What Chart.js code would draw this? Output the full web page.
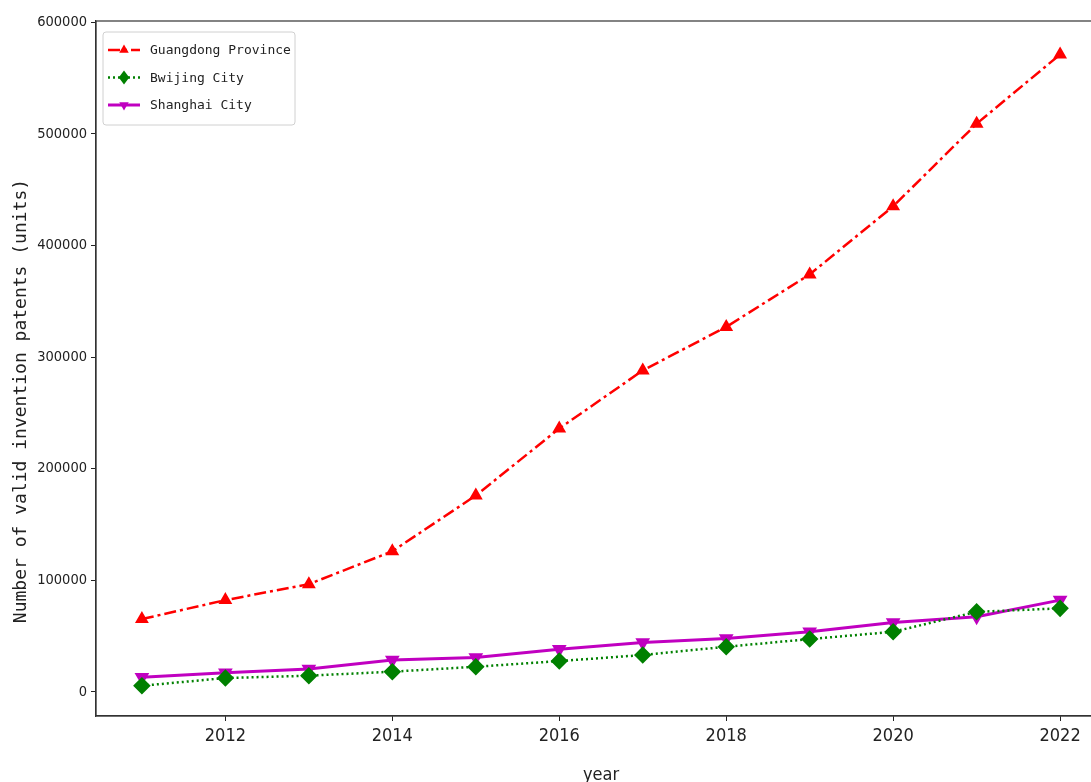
<!DOCTYPE html>
<html>
<head>
<meta charset="utf-8">
<script src="https://cdn.jsdelivr.net/npm/chart.js@4/dist/chart.umd.min.js"></script>
<style>
  html, body { margin: 0; padding: 0; overflow: hidden; background: #fff; }
  #wrap { position: absolute; left: 0; top: 0; width: 1091px; height: 782px; overflow: hidden; }
  #myChart { position: absolute; left: 0; top: 0; }
</style>
</head>
<body>
<div id="wrap"><canvas id="myChart" width="1120" height="800"></canvas></div>
<script>
// x axis
const years = [2011, 2012, 2013, 2014, 2015, 2016, 2017, 2018, 2019, 2020, 2021, 2022]
const xTicks = [2012, 2014, 2016, 2018, 2020, 2022]

// y axis
const yTicks = [0, 100000, 200000, 300000, 400000, 500000, 600000]

// y values (units)
const guangdong = [65300, 82300, 96600, 126000, 176000, 236000, 288000, 327000, 374000, 435000, 509000, 571000]
const beijing = [5600, 12500, 14600, 18200, 22600, 27700, 33100, 40500, 47400, 53900, 71800, 74900]
const shanghai = [13100, 17300, 20600, 28600, 31000, 38200, 44400, 48000, 53900, 62300, 67400, 82300]

const seriesNames = ['Guangdong Province', 'Bwijing City', 'Shanghai City']
const xTitle = 'year'
const yTitle = 'Number of valid invention patents (units)'

const sansFont = '"DejaVu Sans Condensed", "Liberation Sans", sans-serif'
const monoFont = '"DejaVu Sans Mono", monospace'

const toPoints = vals => years.map((yr, i) => ({ x: yr, y: vals[i] }))

// draw a marker like the dataset's point
function drawMarker(c, style, rot, x, y, r, color) {
    c.save()
    c.fillStyle = color
    c.setLineDash([])
    c.translate(x, y)
    c.rotate(rot * Math.PI / 180)
    c.beginPath()
    if (style === 'triangle') {
        c.moveTo(0, -r)
        c.lineTo(r * 0.866, r * 0.5)
        c.lineTo(-r * 0.866, r * 0.5)
    } else {
        c.moveTo(0, -r)
        c.lineTo(r * 0.75, 0)
        c.lineTo(0, r)
        c.lineTo(-r * 0.75, 0)
    }
    c.closePath()
    c.fill()
    c.restore()
}

// frame round the plot + legend box inside the plot
const framePlugin = {
    id: 'frame',
    afterDraw(chart) {
        const c = chart.ctx
        const a = chart.chartArea
        c.save()
        c.strokeStyle = '#333'
        c.lineWidth = 1.2
        c.strokeRect(a.left, a.top, a.right - a.left, a.bottom - a.top)

        // legend
        const bx = a.left + 7, by = a.top + 11, bw = 192, bh = 93
        c.fillStyle = 'rgba(255,255,255,0.85)'
        c.strokeStyle = '#d0d0d0'
        c.lineWidth = 1
        c.beginPath()
        c.roundRect(bx, by, bw, bh, 3)
        c.fill()
        c.stroke()

        chart.data.datasets.forEach((ds, i) => {
            const yy = by + 18 + i * 27.5
            c.save()
            c.strokeStyle = ds.borderColor
            c.lineWidth = ds.borderWidth
            c.setLineDash(ds.borderDash || [])
            c.beginPath()
            c.moveTo(bx + 5, yy)
            c.lineTo(bx + 37, yy)
            c.stroke()
            c.restore()
            drawMarker(c, ds.pointStyle, ds.pointRotation || 0, bx + 21, yy, ds.pointRadius, ds.borderColor)
            c.fillStyle = '#222'
            c.font = '13px ' + monoFont
            c.textBaseline = 'middle'
            c.fillText(ds.label, bx + 47, yy + 1)
        })
        c.restore()
    }
}

const ctx = document.getElementById('myChart').getContext('2d')

const myChart = new Chart(ctx, {
    type: 'line',
    data: {
        datasets: [{
            label: seriesNames[0],
            data: toPoints(guangdong),
            borderColor: '#ff0000',
            backgroundColor: '#ff0000',
            borderWidth: 2.5,
            borderDash: [12, 4, 3, 4],
            pointStyle: 'triangle',
            pointRadius: 5.5,
            pointRotation: 0
        }, {
            label: seriesNames[1],
            data: toPoints(beijing),
            borderColor: '#008000',
            backgroundColor: '#008000',
            borderWidth: 2.5,
            borderDash: [2, 3],
            pointStyle: 'rectRot',
            pointRadius: 7
        }, {
            label: seriesNames[2],
            data: toPoints(shanghai),
            borderColor: '#c000c0',
            backgroundColor: '#c000c0',
            borderWidth: 3,
            pointStyle: 'triangle',
            pointRadius: 5.5,
            pointRotation: 180
        }]
    },
    options: {
        responsive: false,
        animation: false,
        devicePixelRatio: 1,
        layout: { padding: { left: 0, right: 14, top: 21, bottom: 0 } },
        plugins: {
            legend: { display: false },
            tooltip: { enabled: false }
        },
        elements: { line: { tension: 0 } },
        scales: {
            x: {
                type: 'linear',
                min: 2010.45,
                max: 2022.55,
                afterFit: s => { s.height = 84 },
                afterBuildTicks: s => { s.ticks = xTicks.map(v => ({ value: v })) },
                ticks: {
                    color: '#222',
                    font: { family: sansFont, size: 18 },
                    padding: 5,
                    maxRotation: 0,
                    callback: v => String(v)
                },
                grid: { drawOnChartArea: false, drawTicks: true, tickLength: 5, color: '#222' },
                border: { color: '#333', width: 1.2 },
                title: {
                    display: true,
                    text: xTitle,
                    color: '#222',
                    font: { family: sansFont, size: 18 },
                    padding: { top: 0, bottom: 14 }
                }
            },
            y: {
                min: -21500,
                max: 601000,
                afterFit: s => { s.width = 96 },
                afterBuildTicks: s => { s.ticks = yTicks.map(v => ({ value: v })) },
                ticks: {
                    color: '#222',
                    font: { family: sansFont, size: 14.5 },
                    padding: 4,
                    callback: v => String(v)
                },
                grid: { drawOnChartArea: false, drawTicks: true, tickLength: 5, color: '#222' },
                border: { color: '#333', width: 1.2 },
                title: {
                    display: true,
                    // trailing spaces push the centred title down a little, as in the picture
                    text: yTitle.padEnd(yTitle.length + 6, ' '),
                    color: '#222',
                    font: { family: monoFont, size: 18 },
                    padding: { top: 11, bottom: 0 }
                }
            }
        }
    },
    plugins: [framePlugin]
})
</script>
</body>
</html>
